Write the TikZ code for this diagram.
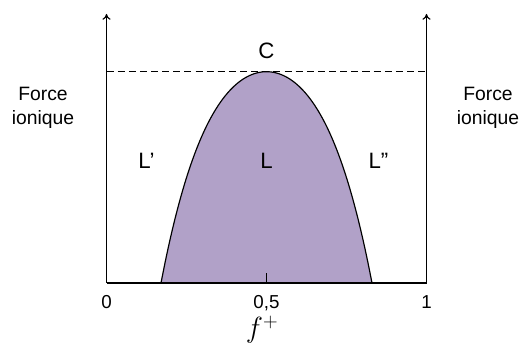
\documentclass[tikz,border=0pt]{standalone}
\usepackage{fontspec}
\setmainfont{Liberation Sans}
\usetikzlibrary{arrows.meta}
\definecolor{phaseLilac}{RGB}{177,161,200}

\begin{document}
\begin{tikzpicture}[x=0.03cm,y=0.03cm,line width=1pt,
    axisLabel/.style={font=\fontsize{16.5}{20.5}\selectfont,align=center},
    zoneLabel/.style={font=\fontsize{19}{22}\selectfont,anchor=base}]
    \useasboundingbox (0,0) rectangle (522,347);
    % zone diphasique L
    \filldraw[fill=phaseLilac,draw=black] plot[domain=-1:1,samples=101,smooth]
      ({266.5+105.5*\x},{275.3-211.3*(0.7*\x*\x+0.3*\x*\x*\x*\x)});
    % axes
    \draw[-{To[length=5pt,width=7pt]}] (106.5,64) -- (106.5,333);
    \draw[-{To[length=5pt,width=7pt]}] (426.5,64) -- (426.5,333);
    \draw (106.5,64) -- (426.5,64);
    \draw (266.5,64) -- (266.5,74);
    \draw[dashed,dash pattern=on 6pt off 3.5pt] (106.5,275.3) -- (426.5,275.3);
    % textes
    \node[axisLabel] (fiG) at (43,239) {Force\\ionique};
    \node[axisLabel] (fiD) at (488,239) {Force\\ionique};
    \node[zoneLabel] (ptC) at (266.5,288.7) {C};
    \node[zoneLabel] (lG) at (146.5,178) {L’};
    \node[zoneLabel] (lM) at (266.5,178) {L};
    \node[zoneLabel] (lD) at (378.5,178) {L”};
    \foreach \x/\lab in {106.5/0,266.5/{0,5},426.5/1}{
      \node[font=\fontsize{16}{19}\selectfont,anchor=base] at (\x,38.7) {\lab};
    }
    \node[font=\fontsize{27}{30}\selectfont,anchor=base] (fplus) at (262,9) {$f^{+}$};
\end{tikzpicture}
\end{document}
